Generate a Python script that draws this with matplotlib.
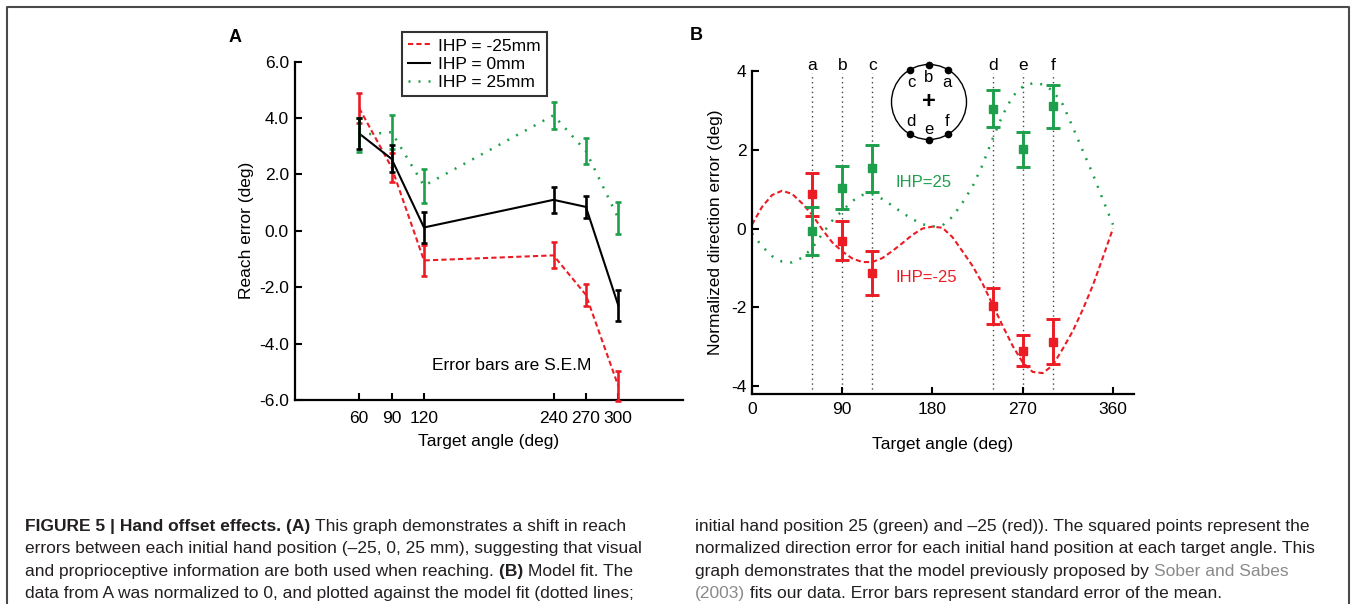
import matplotlib
matplotlib.use("Agg")
import matplotlib.pyplot as plt
from matplotlib.lines import Line2D
import numpy as np

plt.rcParams['font.family'] = ['Liberation Sans', 'DejaVu Sans']
plt.rcParams['axes.unicode_minus'] = False

RED = '#ec1c24'
GREEN = '#1d9f4b'
TXT = '#231f20'

# ---- panel A : reach error per initial hand position
angles_a = [60, 90, 120, 240, 270, 300]
reach_m25 = [4.35, 2.25, -1.05, -0.87, -2.27, -5.50]
sem_m25 = [0.53, 0.50, 0.56, 0.46, 0.38, 0.53]
reach_0 = [3.45, 2.55, 0.12, 1.10, 0.85, -2.64]
sem_0 = [0.56, 0.48, 0.55, 0.45, 0.38, 0.55]
reach_25 = [3.40, 3.50, 1.60, 4.10, 2.83, 0.45]
sem_25 = [0.61, 0.60, 0.60, 0.47, 0.45, 0.56]

# ---- panel B : normalized direction error + model fit
target_letters = ['a', 'b', 'c', 'd', 'e', 'f']
norm_m25 = [0.87, -0.31, -1.13, -1.96, -3.10, -2.87]
nsem_m25 = [0.54, 0.50, 0.55, 0.46, 0.39, 0.58]
norm_25 = [-0.05, 1.04, 1.53, 3.04, 2.01, 3.10]
nsem_25 = [0.61, 0.54, 0.60, 0.47, 0.44, 0.55]

fit_angles = [0, 10, 20, 30, 40, 50, 60, 70, 80, 90, 100, 110, 120, 130, 140, 150, 160, 170, 180,
              190, 200, 210, 220, 230, 240, 250, 260, 270, 280, 290, 300, 310, 320, 330, 340, 350, 360]
fit_m25 = [0.10, 0.55, 0.85, 0.96, 0.88, 0.64, 0.35, -0.02, -0.35, -0.58, -0.76, -0.85, -0.85,
           -0.75, -0.57, -0.37, -0.16, 0.00, 0.05, 0.02, -0.22, -0.58, -0.95, -1.40, -1.93, -2.47,
           -2.98, -3.40, -3.64, -3.67, -3.47, -3.05, -2.60, -2.05, -1.44, -0.73, 0.00]
fit_25 = [-0.12, -0.45, -0.70, -0.84, -0.86, -0.74, -0.50, -0.14, 0.20, 0.45, 0.70, 0.85, 0.87,
          0.75, 0.58, 0.40, 0.24, 0.11, 0.05, 0.08, 0.30, 0.66, 1.07, 1.62, 2.28, 2.88, 3.36,
          3.60, 3.69, 3.66, 3.50, 3.15, 2.57, 1.97, 1.38, 0.73, 0.10]

W, H = 1356, 604
fig = plt.figure(figsize=(W / 100, H / 100), dpi=100)


def px_rect(left, top, right, bottom):
    return [left / W, 1 - bottom / H, (right - left) / W, (bottom - top) / H]


def style_axes(ax):
    for s in ['top', 'right']:
        ax.spines[s].set_visible(False)
    for s in ['left', 'bottom']:
        ax.spines[s].set_linewidth(1.6)
    ax.tick_params(direction='in', length=5, width=1.5, labelsize=12.5, colors='black')


# ================= panel A
axA = fig.add_axes(px_rect(294.5, 61.7, 683, 400))
axA.plot(angles_a, reach_m25, color=RED, lw=1.5, ls=(0, (2.5, 1.5)), label='IHP = -25mm')
axA.plot(angles_a, reach_0, color='black', lw=1.5, label='IHP = 0mm')
axA.plot(angles_a, reach_25, color=GREEN, lw=1.8, ls=(0, (0.8, 3.2)), label='IHP = 25mm')
for y, e, c in [(reach_m25, sem_m25, RED), (reach_25, sem_25, GREEN), (reach_0, sem_0, 'black')]:
    axA.errorbar(angles_a, y, yerr=e, fmt='none', ecolor=c, elinewidth=1.9, capsize=2.3,
                 capthick=1.9, clip_on=False, zorder=4)
axA.set_xlim(0, 360)
axA.set_ylim(-6, 6)
axA.set_xticks(angles_a)
axA.set_yticks([-6, -4, -2, 0, 2, 4, 6])
axA.set_yticklabels(['%.1f' % v for v in [-6, -4, -2, 0, 2, 4, 6]])
style_axes(axA)
axA.tick_params(axis='x', pad=8)
axA.tick_params(axis='y', pad=4)
axA.set_xlabel('Target angle (deg)', fontsize=12.5, labelpad=6)
axA.set_ylabel('Reach error (deg)', fontsize=12.5, labelpad=4)
axA.text(127, -4.79, 'Error bars are S.E.M', fontsize=12.5, va='center', ha='left')
leg = axA.legend(loc='upper left', bbox_to_anchor=(401.7 / W, 1 - 32.3 / H),
                 bbox_transform=fig.transFigure, fontsize=12.5, frameon=True, fancybox=False,
                 edgecolor='black', borderaxespad=0, borderpad=0.35, labelspacing=0.17,
                 handlelength=1.3, handletextpad=0.45)
leg.get_frame().set_linewidth(1.5)

# ================= panel B
axB = fig.add_axes(px_rect(752, 71, 1134, 394))
for a in angles_a:
    axB.plot([a, a], [-4.2, 3.95], color='#444444', lw=1, ls=(0, (1, 2.5)), zorder=1)
axB.plot(fit_angles, fit_m25, color=RED, lw=1.5, ls=(0, (2.5, 1.5)), zorder=2)
axB.plot(fit_angles, fit_25, color=GREEN, lw=1.8, ls=(0, (0.8, 3.2)), zorder=2)
axB.errorbar(angles_a, norm_m25, yerr=nsem_m25, fmt='s', color=RED, ms=5.5, elinewidth=2.1,
             capsize=5, capthick=2.1, zorder=4)
axB.errorbar(angles_a, norm_25, yerr=nsem_25, fmt='s', color=GREEN, ms=5.5, elinewidth=2.1,
             capsize=5, capthick=2.1, zorder=4)
for a, lt in zip(angles_a, target_letters):
    axB.text(a, 4.15, lt, ha='center', va='center', fontsize=12.5, clip_on=False)
axB.text(171, 1.17, 'IHP=25', color=GREEN, ha='center', va='center', fontsize=12)
axB.text(174, -1.24, 'IHP=-25', color=RED, ha='center', va='center', fontsize=12)
axB.set_xlim(0, 381)
axB.set_ylim(-4.2, 4.0)
axB.set_xticks([0, 90, 180, 270, 360])
axB.set_yticks([-4, -2, 0, 2, 4])
style_axes(axB)
axB.tick_params(axis='x', pad=6)
axB.tick_params(axis='y', pad=4)
axB.set_xlabel('Target angle (deg)', fontsize=12.5, labelpad=14)
axB.set_ylabel('Normalized direction error (deg)', fontsize=12.5, labelpad=6)

# target layout inset
axC = fig.add_axes(px_rect(929 - 45, 102 - 45, 929 + 45, 102 + 45))
axC.set_xlim(-1.2, 1.2)
axC.set_ylim(-1.2, 1.2)
axC.axis('off')
axC.add_patch(plt.Circle((0, 0), 1.0, fill=False, lw=1.0, color='black'))
rad = np.deg2rad(angles_a)
axC.plot(np.cos(rad), np.sin(rad), 'o', color='black', ms=4.5, clip_on=False)
letter_pos = {'a': (0.47, 0.51), 'b': (0, 0.64), 'c': (-0.47, 0.51),
              'd': (-0.47, -0.52), 'e': (0, -0.74), 'f': (0.47, -0.52)}
for lt in target_letters:
    axC.text(letter_pos[lt][0], letter_pos[lt][1], lt, ha='center', va='center', fontsize=12)
axC.text(0, 0, '+', ha='center', va='center', fontsize=17, fontweight='bold')

# panel letters
fig.text(235 / W, 1 - 37 / H, 'A', fontsize=13, fontweight='bold', ha='center', va='center')
fig.text(696 / W, 1 - 36 / H, 'B', fontsize=13, fontweight='bold', ha='center', va='center')

# outer frame (open at the bottom)
fc = '#4a4a4a'
fig.add_artist(Line2D([7 / W, 7 / W, 1349 / W, 1349 / W], [0, 1 - 7 / H, 1 - 7 / H, 0],
                      transform=fig.transFigure, color=fc, lw=1.5))

# caption
cap_size = 12.5
left_lines = [
    [("FIGURE 5 | Hand offset effects. (A) ", 'bold', TXT), ("This graph demonstrates a shift in reach", 'normal', TXT)],
    [("errors between each initial hand position (\u201325, 0, 25 mm), suggesting that visual", 'normal', TXT)],
    [("and proprioceptive information are both used when reaching. ", 'normal', TXT), ("(B) ", 'bold', TXT),
     ("Model fit. The", 'normal', TXT)],
    [("data from A was normalized to 0, and plotted against the model fit (dotted lines;", 'normal', TXT)],
]
right_lines = [
    [("initial hand position 25 (green) and \u201325 (red)). The squared points represent the", 'normal', TXT)],
    [("normalized direction error for each initial hand position at each target angle. This", 'normal', TXT)],
    [("graph demonstrates that the model previously proposed by ", 'normal', TXT),
     ("Sober and Sabes", 'normal', '#8a8a8a')],
    [("(2003)", 'normal', '#8a8a8a'), (" fits our data. Error bars represent standard error of the mean.", 'normal', TXT)],
]
baselines = [531, 553, 576, 598]
renderer = fig.canvas.get_renderer()
for x0, lines in [(25, left_lines), (695, right_lines)]:
    for yb, runs in zip(baselines, lines):
        x = x0
        for s, wgt, col in runs:
            t = fig.text(x / W, 1 - yb / H, s, fontsize=cap_size, fontweight=wgt, color=col,
                         ha='left', va='baseline')
            x += t.get_window_extent(renderer=renderer).width

fig.savefig('out.png', dpi=100)
